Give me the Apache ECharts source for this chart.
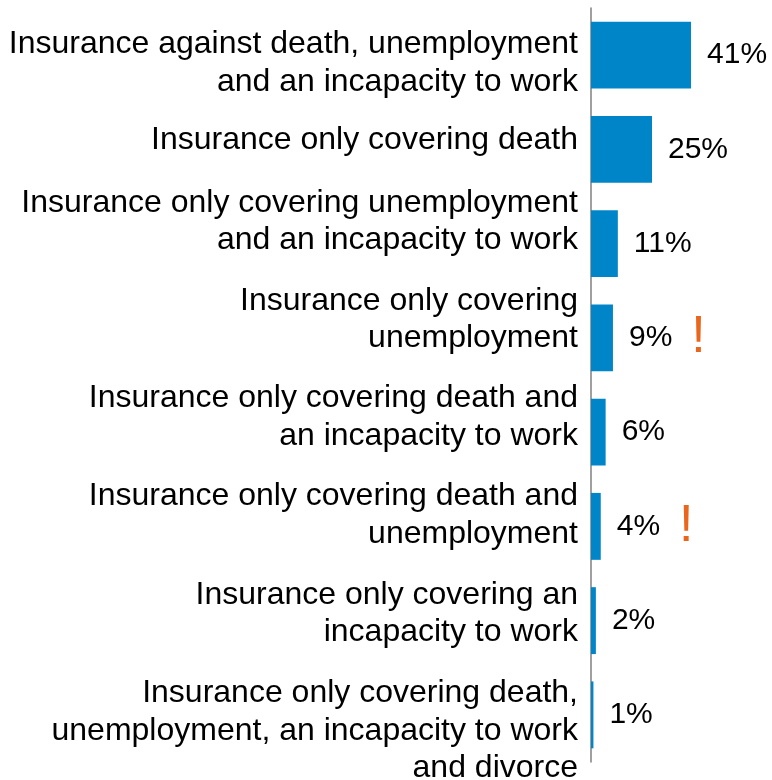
<!DOCTYPE html>
<html>
<head>
<meta charset="utf-8">
<script src="https://cdn.jsdelivr.net/npm/echarts@6/dist/echarts.min.js"></script>
<style>
  html, body { margin: 0; padding: 0; background: #ffffff; }
  #chart { width: 772px; height: 780px; }
</style>
</head>
<body>
<div id="chart"></div>
<script>
// Insurance cover types, share of respondents (%)
const categories = [
  'Insurance against death, unemployment\nand an incapacity to work',
  'Insurance only covering death',
  'Insurance only covering unemployment\nand an incapacity to work',
  'Insurance only covering\nunemployment',
  'Insurance only covering death and\nan incapacity to work',
  'Insurance only covering death and\nunemployment',
  'Insurance only covering an\nincapacity to work',
  'Insurance only covering death,\nunemployment, an incapacity to work\nand divorce'
];
const values = [41, 25, 11, 9, 6, 4, 2, 1];
// categories whose figure carries a caution mark
const cautionFlags = [false, false, false, true, false, true, false, false];

// vertical nudge (px) of each category label relative to its bar centre
const labelNudge = [8, -9, -22, -18, -15, -11, -7, 16];

const FONT = "'Liberation Sans', Arial, Helvetica, sans-serif";

// rich styles: one text style plus an invisible spacer line per label,
// the spacer shifts the centred text block up or down
const labelRich = {
  t: { fontFamily: FONT, fontSize: 32, lineHeight: 37.5, color: '#000000', align: 'right' }
};
labelNudge.forEach((d, i) => {
  labelRich['s' + i] = { fontSize: 1, lineHeight: Math.max(1, 2 * Math.abs(d)), align: 'right' };
});

function categoryLabel(value, index) {
  const lines = String(value).split('\n').map(l => '{t|' + l + '}');
  const d = labelNudge[index] || 0;
  const spacer = '{s' + index + '| }';
  if (d > 0) lines.unshift(spacer);
  else if (d < 0) lines.push(spacer);
  return lines.join('\n');
}

const chart = echarts.init(document.getElementById('chart'), null, { renderer: 'canvas' });

chart.setOption({
  animation: false,
  backgroundColor: '#ffffff',
  grid: {
    left: 591, top: 8, width: 122, height: 754,
    containLabel: false,
    outerBoundsMode: 'none'
  },
  xAxis: {
    type: 'value',
    min: 0,
    max: 50,
    show: false
  },
  yAxis: {
    type: 'category',
    inverse: true,
    data: categories,
    axisLine: { show: true, lineStyle: { color: '#808080', width: 1.5 } },
    axisTick: { show: false },
    splitLine: { show: false },
    axisLabel: {
      interval: 0,
      hideOverlap: false,
      margin: 13,
      align: 'right',
      verticalAlign: 'middle',
      formatter: categoryLabel,
      rich: labelRich
    }
  },
  series: [{
    type: 'bar',
    data: values,
    barCategoryGap: '29%',
    itemStyle: { color: '#0086C8' },
    label: {
      show: true,
      position: 'right',
      distance: 16,
      formatter: p => cautionFlags[p.dataIndex]
        ? '{v|' + p.value + '%}{w|!}'
        : '{v|' + p.value + '%}',
      rich: {
        v: { fontFamily: FONT, fontSize: 30, color: '#000000' },
        w: { fontFamily: FONT, fontSize: 52, color: '#E9661C', padding: [0, 0, 0, 19] }
      }
    }
  }]
});
</script>
</body>
</html>
